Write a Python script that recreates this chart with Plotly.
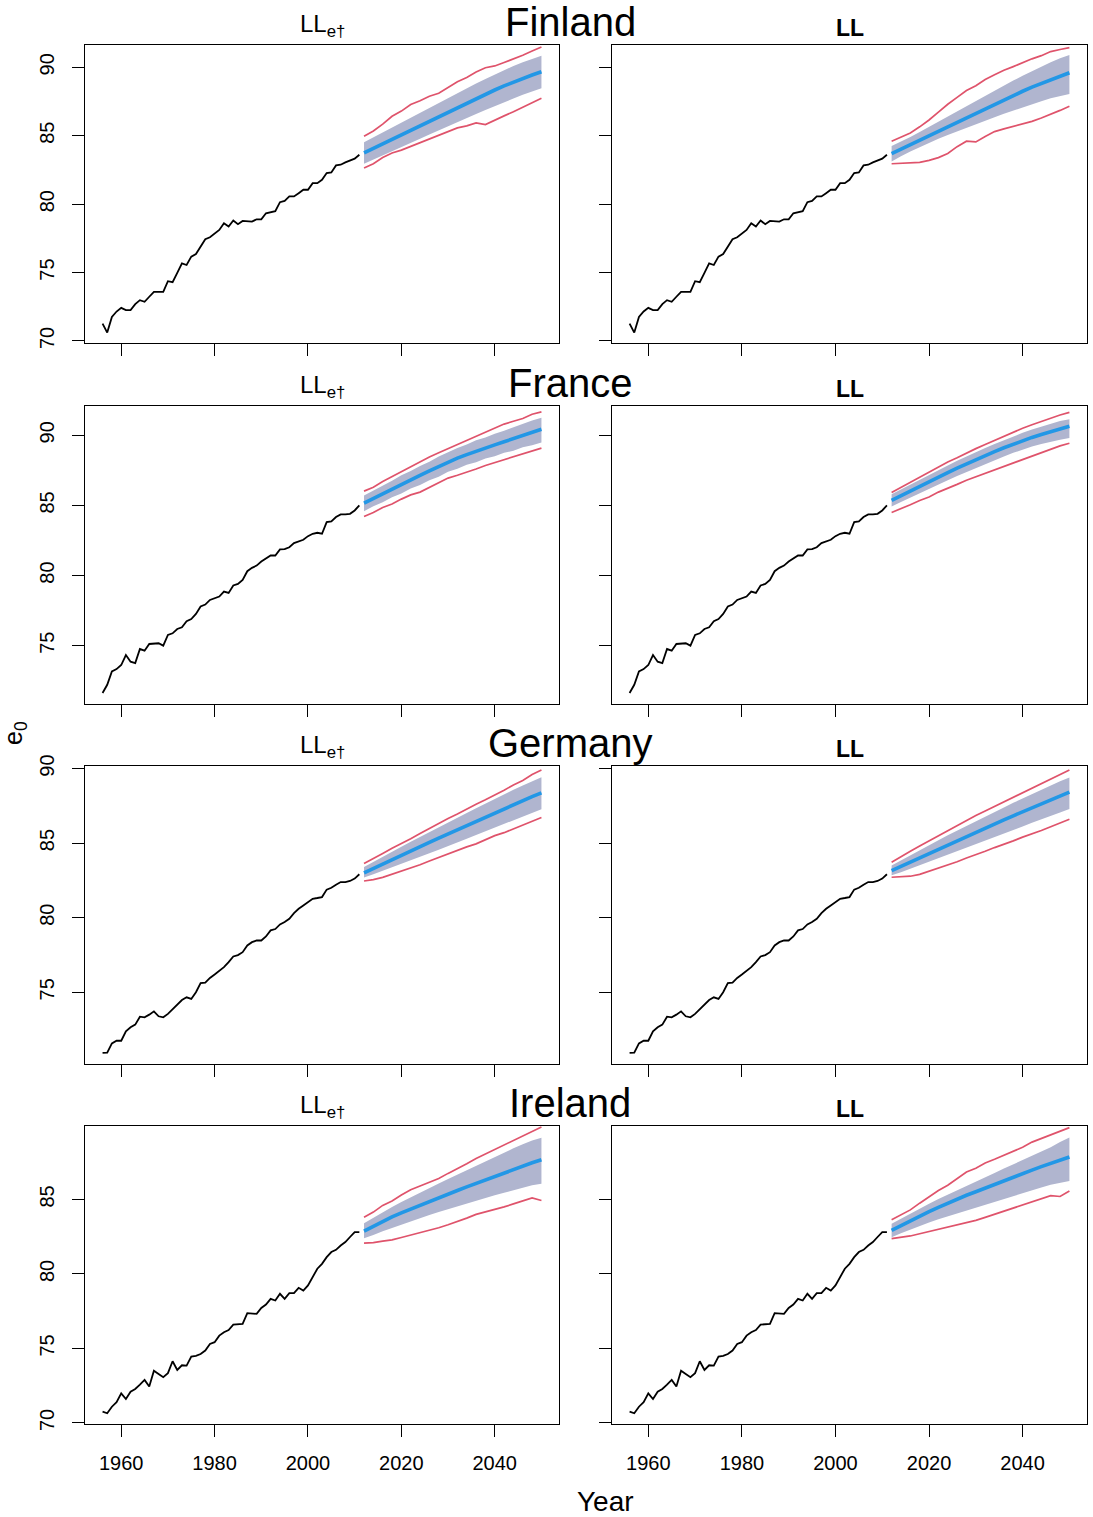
import plotly.graph_objects as go

W, H = 1093, 1517

# ---------------- data ----------------
countries = ["Finland", "France", "Germany", "Ireland"]
years_hist = list(range(1956, 2012))
years_fc = list(range(2012, 2051, 2))
x_ticks = [1960, 1980, 2000, 2020, 2040]

fin_hist = [71.27,70.61,71.76,72.15,72.42,72.25,72.25,72.69,72.98,72.86,
            73.23,73.59,73.59,73.59,74.37,74.30,74.98,75.67,75.55,76.16,
            76.35,76.89,77.43,77.58,77.87,78.11,78.60,78.36,78.80,78.53,
            78.77,78.72,78.72,78.89,78.89,79.33,79.43,79.48,80.14,80.24,
            80.56,80.56,80.80,81.05,81.05,81.53,81.53,81.78,82.27,82.32,
            82.83,82.88,83.05,83.17,83.32,83.61]
fra_hist = [71.62,72.21,73.17,73.33,73.62,74.33,73.86,73.76,74.76,74.64,
            75.12,75.17,75.17,75.00,75.76,75.88,76.19,76.31,76.74,76.90,
            77.26,77.79,77.93,78.26,78.40,78.50,78.86,78.76,79.29,79.40,
            79.69,80.31,80.55,80.71,81.00,81.19,81.43,81.43,81.86,81.88,
            82.02,82.31,82.43,82.55,82.81,82.98,83.05,82.98,83.81,83.86,
            84.17,84.36,84.36,84.40,84.64,85.00]
ger_hist = [70.93,70.95,71.57,71.75,71.75,72.38,72.65,72.83,73.36,73.32,
            73.50,73.72,73.39,73.32,73.55,73.88,74.22,74.48,74.66,74.55,
            75.00,75.61,75.65,75.96,76.19,76.41,76.68,77.02,77.40,77.49,
            77.69,78.14,78.36,78.47,78.47,78.74,79.15,79.24,79.55,79.71,
            79.93,80.31,80.60,80.82,81.05,81.27,81.32,81.38,81.88,82.01,
            82.21,82.39,82.39,82.46,82.62,82.91]
ire_hist = [70.76,70.65,71.09,71.39,71.99,71.61,72.10,72.28,72.57,72.89,
            72.44,73.51,73.29,73.07,73.34,74.14,73.56,73.87,73.85,74.46,
            74.50,74.63,74.86,75.30,75.42,75.86,76.09,76.24,76.60,76.65,
            76.65,77.37,77.37,77.32,77.72,77.95,78.33,78.22,78.67,78.33,
            78.71,78.71,79.07,78.89,79.23,79.79,80.35,80.68,81.13,81.47,
            81.62,81.91,82.14,82.48,82.81,82.81]

# Finland, LL_e-dagger model
fin_a_med = [83.74,84.07,84.39,84.72,85.06,85.39,85.73,86.07,86.40,86.74,87.07,87.39,87.71,88.03,88.34,88.64,88.92,89.19,89.44,89.68]
fin_a_bhi = [84.52,84.88,85.23,85.58,85.95,86.32,86.68,87.05,87.41,87.78,88.13,88.48,88.82,89.15,89.48,89.80,90.10,90.37,90.62,90.85]
fin_a_blo = [82.96,83.27,83.56,83.86,84.17,84.47,84.78,85.09,85.39,85.70,86.00,86.29,86.58,86.88,87.17,87.45,87.72,87.99,88.24,88.46]
fin_a_rhi = [84.96,85.35,85.85,86.42,86.80,87.28,87.55,87.89,88.10,88.55,88.95,89.25,89.65,89.97,90.10,90.35,90.60,90.88,91.19,91.48]
fin_a_rlo = [82.64,82.95,83.40,83.74,83.95,84.22,84.45,84.71,84.98,85.30,85.57,85.72,85.94,85.81,86.15,86.45,86.75,87.08,87.40,87.74]
# Finland, LL model
fin_b_med = [83.69,84.02,84.35,84.68,85.01,85.34,85.67,86.00,86.33,86.66,86.99,87.31,87.63,87.94,88.25,88.55,88.83,89.10,89.36,89.60]
fin_b_bhi = [84.25,84.55,84.90,85.27,85.65,86.02,86.40,86.78,87.17,87.55,87.93,88.30,88.67,89.03,89.38,89.72,90.05,90.37,90.66,90.90]
fin_b_blo = [83.12,83.50,83.85,84.17,84.48,84.78,85.06,85.34,85.60,85.85,86.10,86.35,86.60,86.84,87.07,87.30,87.52,87.74,87.92,88.05]
fin_b_rhi = [84.59,84.90,85.20,85.65,86.15,86.72,87.30,87.80,88.30,88.65,89.11,89.45,89.78,90.05,90.35,90.62,90.85,91.15,91.30,91.44]
fin_b_rlo = [82.95,82.97,83.00,83.05,83.20,83.40,83.70,84.20,84.60,84.55,84.95,85.30,85.50,85.69,85.85,86.05,86.30,86.55,86.85,87.16]

# France
fra_a_med = [85.16,85.50,85.84,86.17,86.50,86.82,87.14,87.46,87.78,88.10,88.37,88.62,88.87,89.10,89.32,89.54,89.76,89.98,90.20,90.43]
fra_a_bhi = [85.71,86.05,86.45,86.76,87.15,87.45,87.82,88.12,88.48,88.80,89.10,89.34,89.65,89.85,90.12,90.33,90.58,90.80,91.05,91.26]
fra_a_blo = [84.59,84.95,85.22,85.58,85.85,86.20,86.45,86.80,87.05,87.40,87.62,87.90,88.08,88.35,88.50,88.75,88.90,89.15,89.30,89.48]
fra_a_rhi = [86.02,86.30,86.70,87.05,87.40,87.80,88.10,88.45,88.75,89.05,89.35,89.60,89.95,90.25,90.55,90.80,91.00,91.20,91.50,91.67]
fra_a_rlo = [84.21,84.50,84.85,85.10,85.45,85.75,85.95,86.30,86.60,86.95,87.15,87.35,87.60,87.85,88.05,88.30,88.50,88.70,88.85,89.09]
fra_b_med = [85.36,85.70,86.04,86.37,86.70,87.02,87.34,87.66,87.97,88.27,88.56,88.84,89.11,89.37,89.62,89.85,90.06,90.26,90.45,90.64]
fra_b_bhi = [85.80,86.15,86.50,86.85,87.20,87.52,87.85,88.18,88.50,88.80,89.10,89.38,89.66,89.92,90.18,90.42,90.63,90.84,91.02,91.15]
fra_b_blo = [84.92,85.24,85.56,85.88,86.18,86.49,86.79,87.09,87.38,87.67,87.95,88.22,88.49,88.75,89.00,89.20,89.38,89.54,89.68,89.80]
fra_b_rhi = [85.93,86.30,86.65,87.05,87.40,87.75,88.10,88.40,88.75,89.05,89.35,89.65,89.95,90.25,90.50,90.75,91.00,91.20,91.45,91.64]
fra_b_rlo = [84.50,84.75,85.05,85.35,85.60,85.95,86.20,86.50,86.80,87.05,87.30,87.55,87.80,88.05,88.30,88.55,88.80,89.00,89.25,89.43]

# Germany
ger_a_med = [83.00,83.30,83.60,83.89,84.18,84.47,84.76,85.05,85.33,85.61,85.90,86.19,86.48,86.77,87.05,87.32,87.59,87.86,88.12,88.37]
ger_a_bhi = [83.40,83.75,84.10,84.43,84.76,85.09,85.42,85.75,86.07,86.38,86.70,87.02,87.34,87.66,87.97,88.27,88.57,88.86,89.14,89.41]
ger_a_blo = [82.70,82.92,83.14,83.37,83.60,83.84,84.08,84.32,84.56,84.80,85.04,85.30,85.55,85.80,86.05,86.30,86.55,86.80,87.03,87.27]
ger_a_rhi = [83.63,83.95,84.30,84.65,84.95,85.30,85.65,86.00,86.35,86.65,86.95,87.30,87.60,87.90,88.20,88.55,88.90,89.20,89.60,89.90]
ger_a_rlo = [82.46,82.55,82.70,82.90,83.10,83.30,83.55,83.80,84.05,84.25,84.50,84.75,84.95,85.25,85.50,85.70,85.95,86.20,86.45,86.72]
ger_b_med = [83.15,83.44,83.73,84.02,84.31,84.60,84.88,85.16,85.44,85.72,86.00,86.28,86.56,86.83,87.10,87.37,87.64,87.90,88.16,88.42]
ger_b_bhi = [83.50,83.85,84.20,84.55,84.88,85.20,85.52,85.84,86.15,86.46,86.77,87.08,87.39,87.70,88.00,88.30,88.60,88.90,89.15,89.40]
ger_b_blo = [82.85,83.05,83.28,83.50,83.73,83.97,84.20,84.44,84.68,84.92,85.16,85.40,85.64,85.88,86.12,86.36,86.60,86.84,87.06,87.28]
ger_b_rhi = [83.72,84.10,84.45,84.80,85.15,85.50,85.85,86.20,86.55,86.85,87.15,87.45,87.75,88.05,88.35,88.65,88.95,89.25,89.60,89.90]
ger_b_rlo = [82.71,82.72,82.78,82.90,83.10,83.30,83.50,83.75,84.00,84.20,84.45,84.70,84.90,85.15,85.40,85.60,85.85,86.10,86.35,86.60]

# Ireland
ire_a_med = [82.87,83.20,83.52,83.83,84.10,84.36,84.61,84.86,85.10,85.35,85.60,85.84,86.08,86.32,86.56,86.80,87.03,87.25,87.46,87.66]
ire_a_bhi = [83.40,83.78,84.15,84.50,84.83,85.15,85.46,85.77,86.07,86.37,86.67,86.97,87.27,87.57,87.86,88.15,88.43,88.70,88.95,89.14]
ire_a_blo = [82.40,82.62,82.87,83.10,83.32,83.54,83.75,83.96,84.16,84.36,84.55,84.74,84.92,85.10,85.28,85.45,85.62,85.80,85.95,86.05]
ire_a_rhi = [83.81,84.15,84.60,84.90,85.30,85.65,85.90,86.15,86.40,86.75,87.05,87.40,87.75,88.05,88.40,88.70,89.00,89.30,89.60,89.86]
ire_a_rlo = [82.07,82.10,82.20,82.29,82.45,82.60,82.75,82.95,83.10,83.30,83.50,83.75,84.00,84.15,84.30,84.50,84.70,84.90,85.10,84.93]
ire_b_med = [82.92,83.25,83.57,83.88,84.18,84.47,84.75,85.02,85.28,85.52,85.77,86.02,86.26,86.50,86.74,86.97,87.20,87.42,87.64,87.85]
ire_b_bhi = [83.37,83.72,84.07,84.40,84.72,85.03,85.33,85.62,85.91,86.20,86.49,86.78,87.07,87.36,87.64,87.92,88.20,88.50,88.85,89.15]
ire_b_blo = [82.47,82.73,82.98,83.22,83.45,83.67,83.88,84.08,84.28,84.47,84.66,84.85,85.04,85.23,85.42,85.61,85.80,85.98,86.12,86.24]
ire_b_rhi = [83.64,83.95,84.30,84.75,85.20,85.60,85.95,86.40,86.84,87.10,87.45,87.70,87.95,88.20,88.50,88.85,89.10,89.30,89.60,89.82]
ire_b_rlo = [82.37,82.45,82.55,82.70,82.85,82.98,83.10,83.25,83.40,83.60,83.80,84.00,84.20,84.45,84.65,84.85,85.05,85.25,85.20,85.57]

hist = [fin_hist, fra_hist, ger_hist, ire_hist]
fc = [
    [(fin_a_med, fin_a_blo, fin_a_bhi, fin_a_rlo, fin_a_rhi), (fin_b_med, fin_b_blo, fin_b_bhi, fin_b_rlo, fin_b_rhi)],
    [(fra_a_med, fra_a_blo, fra_a_bhi, fra_a_rlo, fra_a_rhi), (fra_b_med, fra_b_blo, fra_b_bhi, fra_b_rlo, fra_b_rhi)],
    [(ger_a_med, ger_a_blo, ger_a_bhi, ger_a_rlo, ger_a_rhi), (ger_b_med, ger_b_blo, ger_b_bhi, ger_b_rlo, ger_b_rhi)],
    [(ire_a_med, ire_a_blo, ire_a_bhi, ire_a_rlo, ire_a_rhi), (ire_b_med, ire_b_blo, ire_b_bhi, ire_b_rlo, ire_b_rhi)],
]
y_ranges = [[69.85, 91.63], [70.84, 92.09], [70.19, 90.17], [69.93, 89.93]]
x_range = [1952.24, 2053.76]

# ---------------- layout geometry (pixels) ----------------
col_px = [(85, 559), (612, 1087)]
row_top = [45, 406, 766, 1126]
row_h = 298

BLACK = "#000000"
BLUE = "#2297E6"
RED = "#DF536B"
BAND = "rgb(176,181,207)"
FONT = "Liberation Sans, Arial, Helvetica, sans-serif"

def px2x(p):
    return p / W

def py2y(p):
    return 1 - p / H

fig = go.Figure()
layout = dict(width=W, height=H, margin=dict(l=0, r=0, t=0, b=0, pad=0),
              template="none", autosize=False,
              paper_bgcolor="white", plot_bgcolor="white", showlegend=False,
              font=dict(family=FONT, color="black"))
annotations = []

k = 0
for r in range(4):
    for c in range(2):
        k += 1
        xa = "x" if k == 1 else f"x{k}"
        ya = "y" if k == 1 else f"y{k}"
        xkey = "xaxis" if k == 1 else f"xaxis{k}"
        ykey = "yaxis" if k == 1 else f"yaxis{k}"
        x0, x1 = col_px[c]
        t0 = row_top[r]
        layout[xkey] = dict(
            domain=[px2x(x0), px2x(x1)], range=x_range, anchor=ya, automargin=False,
            showline=True, mirror=True, linecolor=BLACK, linewidth=1.3,
            ticks="outside", ticklen=12, tickwidth=1.3, tickcolor=BLACK,
            tickvals=x_ticks, showticklabels=(r == 3),
            tickfont=dict(size=20, family=FONT, color="black"),
            ticklabelstandoff=9,
            showgrid=False, zeroline=False)
        layout[ykey] = dict(
            domain=[py2y(t0 + row_h), py2y(t0)], range=y_ranges[r], anchor=xa, automargin=False,
            showline=True, mirror=True, linecolor=BLACK, linewidth=1.3,
            ticks="outside", ticklen=12, tickwidth=1.3, tickcolor=BLACK,
            dtick=5, tick0=70, showticklabels=(c == 0), tickangle=-90,
            tickfont=dict(size=20, family=FONT, color="black"),
            ticklabelstandoff=10,
            showgrid=False, zeroline=False)

        med, blo, bhi, rlo, rhi = fc[r][c]
        fig.add_trace(go.Scatter(x=years_fc + years_fc[::-1], y=bhi + blo[::-1],
                                 fill="toself", fillcolor=BAND, line=dict(width=0),
                                 mode="lines", xaxis=xa, yaxis=ya, hoverinfo="skip"))
        fig.add_trace(go.Scatter(x=years_fc, y=rhi, mode="lines",
                                 line=dict(color=RED, width=1.7), xaxis=xa, yaxis=ya))
        fig.add_trace(go.Scatter(x=years_fc, y=rlo, mode="lines",
                                 line=dict(color=RED, width=1.7), xaxis=xa, yaxis=ya))
        fig.add_trace(go.Scatter(x=years_fc, y=med, mode="lines",
                                 line=dict(color=BLUE, width=3.6), xaxis=xa, yaxis=ya))
        fig.add_trace(go.Scatter(x=years_hist, y=hist[r], mode="lines",
                                 line=dict(color=BLACK, width=1.8), xaxis=xa, yaxis=ya))

        cx = (x0 + x1) / 2
        if c == 0:
            annotations.append(dict(text="LL<sub>e†</sub>", x=px2x(cx), y=py2y(t0 - 20),
                                    xref="paper", yref="paper", showarrow=False,
                                    xanchor="center", yanchor="middle",
                                    font=dict(size=24, family=FONT)))
        else:
            annotations.append(dict(text="<b>LL</b>", x=px2x(cx), y=py2y(t0 - 17),
                                    xref="paper", yref="paper", showarrow=False,
                                    xanchor="center", yanchor="middle",
                                    font=dict(size=23, family=FONT)))
    annotations.append(dict(text=countries[r], x=px2x(570), y=py2y(row_top[r] - 23),
                            xref="paper", yref="paper", showarrow=False,
                            xanchor="center", yanchor="middle",
                            font=dict(size=40, family=FONT)))

annotations.append(dict(text="Year", x=px2x(605), y=py2y(1501), xref="paper", yref="paper",
                        showarrow=False, xanchor="center", yanchor="middle",
                        font=dict(size=28, family=FONT)))
annotations.append(dict(text="e<sub>0</sub>", x=px2x(15), y=py2y(733), xref="paper", yref="paper",
                        showarrow=False, xanchor="center", yanchor="middle", textangle=-90,
                        font=dict(size=25, family=FONT)))
layout["annotations"] = annotations
fig.update_layout(**layout)
fig.write_html("out.html", config={"displayModeBar": False},
               post_script="document.body.style.margin='0';document.body.style.padding='0';")
